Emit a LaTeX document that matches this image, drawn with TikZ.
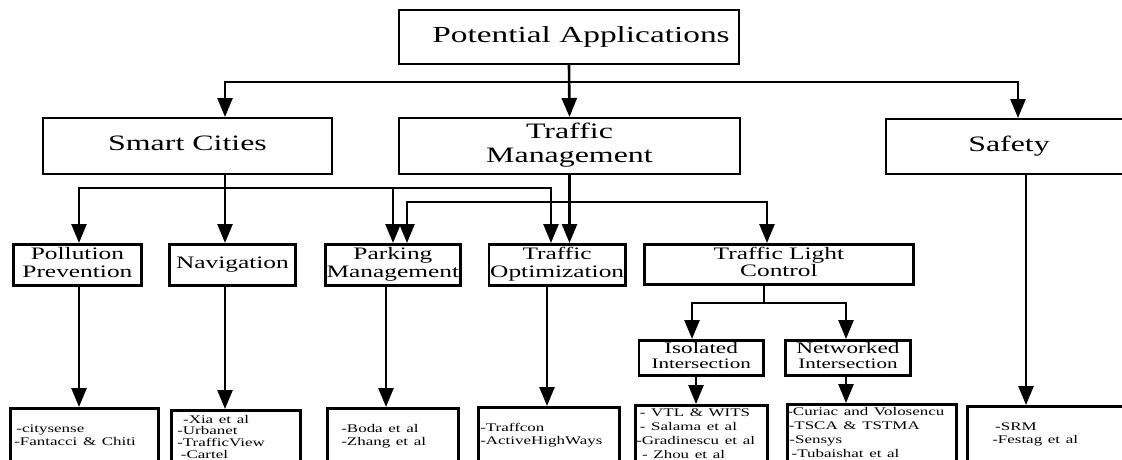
\documentclass[tikz,border=0pt]{standalone}
\usepackage{fontspec}
\setmainfont{Liberation Serif}
\usepackage{graphicx}
\usetikzlibrary{arrows.meta}
\def\stx#1{\scalebox{1.45}[1]{\begin{tabular}{@{}c@{}}#1\end{tabular}}}
\def\stl#1{\scalebox{1.45}[1]{\begin{tabular}{@{}l@{}}#1\end{tabular}}}
\tikzset{
	topbox/.style={draw, line width=2pt, anchor=north west, inner sep=0pt, font=\fontsize{22}{24}\selectfont},
	subbox/.style={draw, line width=2.8pt, anchor=north west, inner sep=0pt, font=\fontsize{17.5}{17.5}\selectfont},
	leafbox/.style={draw, line width=2.6pt, anchor=north west, inner ysep=0pt, minimum height=56, align=left, font=\fontsize{11.7}{13}\selectfont},
	hline/.style={line width=1.8pt, line cap=rect},
	vline/.style={line width=2.6pt},
	arr/.style={line width=2.6pt, -{Triangle[length=19pt,width=15pt]}},
}

\begin{document}
\begin{tikzpicture}[x=1pt,y=-1pt]
			%%%%% START %%%%%
			\useasboundingbox (0,0) rectangle (1122,459);
			\clip (0,0) rectangle (1122,459);
			
			\node[topbox, minimum width=340, minimum height=54, font=\fontsize{23}{25}\selectfont] (root) at (398,9) {\hspace{24pt}\stx{Potential Applications}};
			
			\node[topbox, minimum width=289, minimum height=56] (sc) at (42,117) {\stx{Smart Cities}};
			\node[topbox, minimum width=341, minimum height=56] (tm) at (398,117) {\stx{Traffic\\Management}};
			\node[topbox, minimum width=246, minimum height=55] (safety) at (885,118) {\stx{Safety}};
			
			\node[subbox, minimum width=128, minimum height=41] (pollution) at (12,243) {\stx{Pollution\\Prevention}};
			\node[subbox, minimum width=126, minimum height=41] (navigation) at (168,243) {\stx{Navigation}};
			\node[subbox, minimum width=135, minimum height=41] (parking) at (324,243) {\stx{Parking\\Management}};
			\node[subbox, minimum width=136.5, minimum height=41] (trafficopt) at (487.5,243) {\stx{Traffic\\Optimization}};
			\node[subbox, minimum width=269, minimum height=40] (tlc) at (643,243) {\stx{Traffic Light\\Control}};
			
			\node[subbox, minimum width=124.5, minimum height=35, font=\fontsize{16}{15}\selectfont] (isolated) at (637.5,339) {\stx{Isolated\\{\fontsize{14.5}{15}\selectfont Intersection}}};
			\node[subbox, minimum width=125, minimum height=35, font=\fontsize{16}{15}\selectfont] (networked) at (784,339) {\stx{Networked\\{\fontsize{14.5}{15}\selectfont Intersection}}};
			
			\node[leafbox, inner xsep=4, text width=140] (citysense) at (9,407) {\stl{\hspace{1.5pt}-citysense\\-Fantacci \& Chiti}};
			\node[leafbox, inner xsep=6, text width=117, font=\fontsize{11.7}{11.5}\selectfont] (xia) at (170,409) {\stl{\hspace{4pt}-Xia et al\\-Urbanet\\-TrafficView\\\hspace{2.5pt}-Cartel}};
			\node[leafbox, inner xsep=14, text width=103] (boda) at (326,407) {\stl{-Boda et al\\-Zhang et al}};
			\node[leafbox, inner xsep=2, text width=137] (traffcon) at (477,406) {\stl{-Traffcon\\-ActiveHighWays}};
			\node[leafbox, inner xsep=1, text width=130, minimum height=59, font=\fontsize{11.7}{13.8}\selectfont] (vtl) at (634,404) {\stl{\hspace{2.5pt}- VTL \& WITS\\\hspace{2.5pt}- Salama et al\\-Gradinescu et al\\\hspace{4pt}- Zhou et al}};
			\node[leafbox, inner xsep=0, text width=169, minimum height=59, font=\fontsize{11.7}{14}\selectfont] (curiac) at (786,403) {\stl{-Curiac and Volosencu\\\hspace{1pt}-TSCA \& TSTMA\\\hspace{1.5pt}-Sensys\\\hspace{3pt}-Tubaishat et al}};
			\node[leafbox, inner xsep=25, text width=119] (srm) at (966,405) {\stl{\hspace{2pt}-SRM\\-Festag et al}};
			
			% top level
			\coordinate (topbusL) at (225,82);
			\coordinate (topbusR) at (1018,82);
			\draw[hline] (topbusL) -- (topbusR);
			\draw[arr] (root.south) -- (tm.north);
			\draw[arr] (topbusL) -- (topbusL |- sc.north);
			\draw[arr] (topbusR) -- (topbusR |- safety.north);
			
			% smart cities
			\coordinate (scbusA) at (79,188);
			\coordinate (scbusB) at (225,188);
			\coordinate (scbusC) at (393,188);
			\coordinate (scbusD) at (551,188);
			\draw[hline] (scbusA) -- (scbusD);
			\draw[arr] (scbusB |- sc.south) -- (scbusB |- navigation.north);
			\draw[arr] (scbusA) -- (scbusA |- pollution.north);
			\draw[arr] (scbusC) -- (scbusC |- parking.north);
			\draw[arr] (scbusD) -- (scbusD |- trafficopt.north);
			
			% traffic management
			\coordinate (tmbusA) at (407,202);
			\coordinate (tmbusB) at (767,202);
			\draw[hline] (tmbusA) -- (tmbusB);
			\draw[arr] (tm.south) -- (tm.south |- trafficopt.north);
			\draw[arr] (tmbusA) -- (tmbusA |- parking.north);
			\draw[arr] (tmbusB) -- (tmbusB |- tlc.north);
			
			% traffic light control
			\coordinate (tlcbus) at (764,303);
			\coordinate (tlcbusA) at (692,303);
			\coordinate (tlcbusB) at (846,303);
			\draw[vline] (tlcbus |- tlc.south) -- (tlcbus);
			\draw[hline] (tlcbusA) -- (tlcbusB);
			\draw[arr] (tlcbusA) -- (tlcbusA |- isolated.north);
			\draw[arr] (tlcbusB) -- (tlcbusB |- networked.north);
			
			% down to the leaves
			\coordinate (dropPark) at (386,0);
			\coordinate (dropOpt) at (547,0);
			\coordinate (dropIso) at (696,0);
			\coordinate (dropSafe) at (1026,0);
			\draw[arr] (scbusA |- pollution.south) -- (scbusA |- citysense.north);
			\draw[arr] (scbusB |- navigation.south) -- (scbusB |- xia.north);
			\draw[arr] (dropPark |- parking.south) -- (dropPark |- boda.north);
			\draw[arr] (dropOpt |- trafficopt.south) -- (dropOpt |- traffcon.north);
			\draw[arr] (dropIso |- isolated.south) -- (dropIso |- vtl.north);
			\draw[arr] (tlcbusB |- networked.south) -- (tlcbusB |- curiac.north);
			\draw[arr] (dropSafe |- safety.south) -- (dropSafe |- srm.north);
			
			%%%%% END %%%%%
\end{tikzpicture}
\end{document}
